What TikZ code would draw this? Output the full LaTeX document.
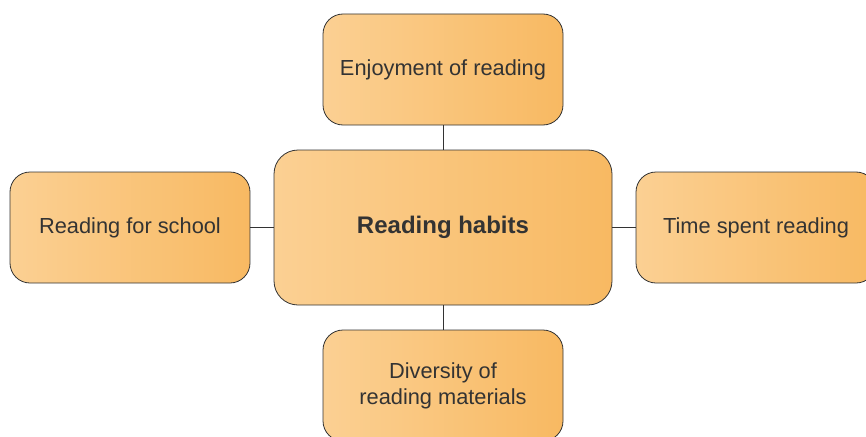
\documentclass[tikz,border=0pt]{standalone}
\usepackage{fontspec}
\setmainfont{Liberation Sans}
\usetikzlibrary{positioning}
\definecolor{ink}{RGB}{51,51,51}
\definecolor{peachL}{RGB}{251,208,147}
\definecolor{peachR}{RGB}{248,185,98}

\begin{document}
\begin{tikzpicture}[
  x=1pt, y=-1pt,
  topic/.style={draw=ink, line width=0.8pt, rounded corners=20pt,
                left color=peachL, right color=peachR, text=ink,
                minimum width=240pt, minimum height=111pt, inner sep=0pt,
                align=center, font=\fontsize{21.8}{26}\selectfont},
  hub/.style={topic, rounded corners=24pt, minimum width=338pt, minimum height=155pt,
              font=\fontsize{24}{28}\selectfont\bfseries},
  link/.style={draw=ink, line width=0.7pt},
]
\useasboundingbox (0,0) rectangle (866,436);
\clip (0,0) rectangle (866,436);

\node[hub]   (habits) at (443,227.5) {Reading habits};

\node[topic] (enjoy)  at (443,69.5)  {Enjoyment of reading};
\node[topic] (school) at (130,227.5) {Reading for school};
\node[topic] (time)   at (756,227.5) {Time spent reading};
\node[topic] (div)    at (443,385.5) {Diversity of\\reading materials};

\draw[link] (habits) -- (enjoy);
\draw[link] (habits) -- (school);
\draw[link] (habits) -- (time);
\draw[link] (habits) -- (div);
\end{tikzpicture}
\end{document}
